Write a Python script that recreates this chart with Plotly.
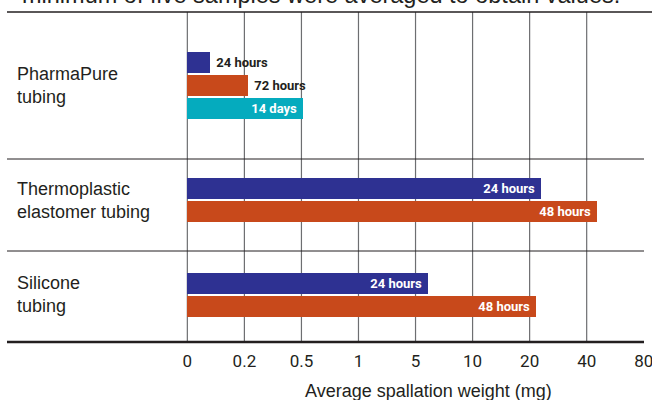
import numpy as np
import plotly.graph_objects as go
from plotly.subplots import make_subplots

# ---------------- data ----------------
tubings = ["PharmaPure<br>tubing", "Thermoplastic<br>elastomer tubing", "Silicone<br>tubing"]
pharmapure_durations = ["24 hours", "72 hours", "14 days"]
pharmapure_mg = [0.08, 0.22, 0.51]
tpe_durations = ["24 hours", "48 hours"]
tpe_mg = [24, 47]
silicone_durations = ["24 hours", "48 hours"]
silicone_mg = [6.1, 22.4]
tick_values = [0, 0.2, 0.5, 1, 5, 10, 20, 40, 80]
tick_labels = ["0", "0.2", "0.5", "1", "5", "10", "20", "40", "80"]
axis_title = "Average spallation weight (mg)"
caption_tail = "minimum of five samples were averaged to obtain values."

durations = [pharmapure_durations, tpe_durations, silicone_durations]
values = [pharmapure_mg, tpe_mg, silicone_mg]

# ---------------- style ----------------
duration_colors = {"24 hours": "#2E3192", "72 hours": "#C8491B",
                   "48 hours": "#C8491B", "14 days": "#05ABBE"}
DARK = "#231f20"
COND = "Roboto, Liberation Sans, sans-serif"
SANS = "Liberation Sans, Arial, sans-serif"

W, H = 652, 400
PL, PR, PT, PB = 7, 644, 12, 342          # plot box in px
ZERO_PX, STEP_PX = 187.5, 57.1            # position of tick "0" and tick spacing
row_px = [147, 92, 91]                    # height of each tubing band
first_bar_px = [50, 29.5, 32]             # center of first bar below band top
PITCH, THICK = 23, 21                     # bar pitch / thickness in px

n_ticks = len(tick_values)
x_lo = -(ZERO_PX - PL) / STEP_PX
x_hi = x_lo + (PR - PL) / STEP_PX + 0.01


def to_axis(v):
    # piecewise scale: equal spacing between the labelled ticks
    return np.interp(v, tick_values, np.arange(n_ticks))


fig = make_subplots(rows=3, cols=1, shared_xaxes=True, vertical_spacing=0,
                    row_heights=row_px)

for i, (durs, vals) in enumerate(zip(durations, values)):
    xs = to_axis(vals)
    pos = ["inside" if x * STEP_PX > 70 else "outside" for x in xs]
    fig.add_trace(go.Bar(
        y=durs, x=xs, orientation="h", width=THICK / PITCH,
        marker=dict(color=[duration_colors[d] for d in durs], line=dict(width=0)),
        text=[d + "\u00a0" if p == "inside" else "\u00a0" + d for d, p in zip(durs, pos)],
        textposition=pos, insidetextanchor="end",
        insidetextfont=dict(family=COND, size=13, color="white", weight="bold"),
        outsidetextfont=dict(family=COND, size=13, color=DARK, weight="bold"),
        constraintext="none", cliponaxis=False, hoverinfo="skip", showlegend=False,
    ), row=i + 1, col=1)
    top = -first_bar_px[i] / PITCH
    bottom = top + row_px[i] / PITCH
    fig.update_yaxes(row=i + 1, col=1, type="category", categoryorder="array",
                     categoryarray=durs, range=[bottom, top], showticklabels=False,
                     showgrid=False, zeroline=False, showline=False, fixedrange=True,
                     automargin=False)
    fig.add_annotation(text=tubings[i], xref="paper", x=(15 - PL) / (PR - PL),
                       xanchor="left", yref=f"y{'' if i == 0 else i + 1}",
                       y=(len(durs) - 1) / 2, yanchor="middle", align="left",
                       showarrow=False, font=dict(family=SANS, size=18, color=DARK))

fig.update_xaxes(range=[x_lo, x_hi], showgrid=False, zeroline=False, showline=False,
                 showticklabels=False, ticks="", fixedrange=True, automargin=False)
fig.update_xaxes(row=3, col=1, showticklabels=True, tickvals=list(range(n_ticks)),
                 ticktext=tick_labels, ticklabeloverflow="allow", ticklabelstandoff=7,
                 tickfont=dict(family=COND, size=17, color=DARK))

plot_h = PB - PT
# vertical grid lines at every labelled tick but the last
for k in range(n_ticks - 1):
    fig.add_shape(type="line", xref="x", yref="paper", x0=k, x1=k, y0=0, y1=1,
                  line=dict(color="#6d6e71", width=1.2), layer="below")
# band separators
acc = 0
for h in row_px[::-1][:-1]:
    acc += h
    fig.add_shape(type="line", xref="paper", yref="paper", x0=0, x1=1,
                  y0=acc / plot_h, y1=acc / plot_h, line=dict(color=DARK, width=1))
fig.add_shape(type="line", xref="paper", yref="paper", x0=0, x1=(W - PL) / (PR - PL),
              y0=1, y1=1, line=dict(color=DARK, width=1.5))
fig.add_shape(type="line", xref="paper", yref="paper", x0=0, x1=1,
              y0=0, y1=0, line=dict(color=DARK, width=2.5))

fig.add_annotation(text=caption_tail, xref="paper", x=(20 - PL) / (PR - PL),
                   xanchor="left", yref="paper", y=1 + (PT - 10) / plot_h,
                   yanchor="bottom", showarrow=False,
                   font=dict(family=SANS, size=23.5, color=DARK))
fig.add_annotation(text=axis_title, xref="paper", x=(428 - PL) / (PR - PL),
                   xanchor="center", yref="paper", y=(PB - 403) / plot_h,
                   yanchor="bottom", showarrow=False,
                   font=dict(family=SANS, size=18, color=DARK))

fig.update_layout(width=W, height=H, autosize=False,
                  margin=dict(l=PL, r=W - PR, t=PT, b=H - PB, autoexpand=False),
                  plot_bgcolor="white", paper_bgcolor="white", bargap=0)

fig.write_html("out.html", config={"displayModeBar": False},
               post_script="document.body.style.margin='0';"
                           "document.body.style.overflow='hidden';")
